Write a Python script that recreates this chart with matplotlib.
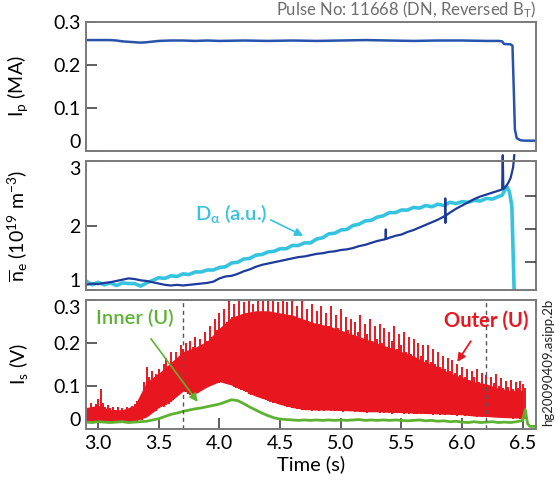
import numpy as np
import matplotlib
matplotlib.use("Agg")
import matplotlib.pyplot as plt

plt.rcParams['font.family'] = ['Lato', 'DejaVu Sans']
plt.rcParams['mathtext.fontset'] = 'custom'
plt.rcParams['mathtext.rm'] = 'Lato'
plt.rcParams['mathtext.it'] = 'Lato:italic'
plt.rcParams['mathtext.bf'] = 'Lato:bold'

# ---------------- data ----------------
t_ip = [2.90, 3.00, 3.10, 3.15, 3.20, 3.30, 3.35, 3.40, 3.50, 3.60, 3.70, 3.80, 3.90, 4.00,
        4.20, 4.40, 4.60, 4.80, 5.00, 5.20, 5.40, 5.60, 5.80, 6.00, 6.20, 6.30, 6.33, 6.345,
        6.40, 6.415, 6.425, 6.435, 6.45, 6.48, 6.52, 6.61]
ip = [0.258, 0.258, 0.258, 0.257, 0.255, 0.253, 0.252, 0.253, 0.256, 0.257, 0.257, 0.256,
      0.257, 0.256, 0.257, 0.256, 0.257, 0.256, 0.257, 0.258, 0.257, 0.256, 0.257, 0.257,
      0.256, 0.256, 0.255, 0.249, 0.248, 0.245, 0.150, 0.050, 0.030, 0.025, 0.024, 0.024]

t_ne = list(np.round(np.arange(2.90, 5.351, 0.05), 3)) + [5.37, 5.371, 5.372, 5.40, 5.45, 5.50,
        5.55, 5.60, 5.65, 5.70, 5.75, 5.80, 5.86, 5.861, 5.862, 5.863, 5.90, 5.95, 6.00, 6.05,
        6.10, 6.15, 6.20, 6.25, 6.30, 6.33, 6.335, 6.34, 6.35, 6.38, 6.40, 6.42, 6.43]
ne = [1.08, 1.10, 1.09, 1.11, 1.12, 1.14, 1.16, 1.18, 1.17, 1.15,
      1.14, 1.12, 1.10, 1.08, 1.07, 1.08, 1.07, 1.08, 1.09, 1.10,
      1.11, 1.13, 1.18, 1.21, 1.22, 1.25, 1.29, 1.32, 1.36, 1.39,
      1.41, 1.43, 1.45, 1.47, 1.49, 1.51, 1.52, 1.54, 1.56, 1.57,
      1.59, 1.60, 1.62, 1.63, 1.65, 1.68, 1.70, 1.73, 1.76, 1.78,
      1.79, 1.94, 1.79, 1.81, 1.84, 1.86, 1.90, 1.93, 1.97, 2.01,
      2.05, 2.09, 2.15, 2.42, 2.04, 2.15, 2.20, 2.26, 2.31, 2.36,
      2.41, 2.45, 2.48, 2.51, 2.54, 2.56, 3.09, 2.57, 2.58, 2.66,
      2.74, 2.90, 3.09]

t_da = list(np.round(np.arange(2.90, 6.301, 0.05), 3)) + [6.33, 6.36, 6.37, 6.39, 6.41, 6.42, 6.43]
da = [1.14, 1.08, 1.12, 1.08, 1.11, 1.07, 1.11, 1.10, 1.10, 1.06,
      1.11, 1.15, 1.19, 1.18, 1.22, 1.21, 1.25, 1.24, 1.28, 1.28,
      1.31, 1.31, 1.35, 1.36, 1.42, 1.43, 1.48, 1.49, 1.54, 1.55,
      1.59, 1.60, 1.64, 1.64, 1.69, 1.69, 1.73, 1.73, 1.79, 1.81,
      1.87, 1.88, 1.93, 1.94, 2.00, 2.02, 2.07, 2.08, 2.13, 2.15,
      2.20, 2.20, 2.24, 2.24, 2.28, 2.27, 2.31, 2.29, 2.33, 2.31,
      2.36, 2.34, 2.37, 2.36, 2.39, 2.38, 2.42, 2.41, 2.45,
      2.47, 2.58, 2.60, 2.52, 2.30, 1.60, 0.90]

# Outer probe: fine spikes (0.02 s grid) and dense core band (0.1 s grid)
t_is = np.round(np.arange(2.90, 6.521, 0.02), 3)
outer_hi = [0.055, 0.048, 0.060, 0.052, 0.058, 0.070, 0.093, 0.060, 0.050, 0.055,
            0.048, 0.052, 0.045, 0.050, 0.042, 0.048, 0.044, 0.050, 0.046, 0.053,
            0.058, 0.065, 0.062, 0.070, 0.110, 0.145, 0.120, 0.135, 0.110, 0.128,
            0.140, 0.118, 0.150, 0.165, 0.140, 0.178, 0.155, 0.180, 0.165, 0.195,
            0.185, 0.200, 0.170, 0.205, 0.190, 0.215, 0.180, 0.210, 0.195, 0.225,
            0.205, 0.240, 0.215, 0.255, 0.230, 0.270, 0.225, 0.280, 0.250, 0.300,
            0.260, 0.290, 0.245, 0.305, 0.265, 0.295, 0.250, 0.310, 0.270, 0.290,
            0.255, 0.305, 0.265, 0.310, 0.245, 0.300, 0.270, 0.310, 0.250, 0.295,
            0.265, 0.305, 0.240, 0.295, 0.260, 0.310, 0.250, 0.285, 0.245, 0.300,
            0.240, 0.280, 0.250, 0.290, 0.235, 0.275, 0.245, 0.285, 0.230, 0.270,
            0.240, 0.285, 0.225, 0.265, 0.235, 0.280, 0.220, 0.260, 0.230, 0.255,
            0.215, 0.250, 0.225, 0.265, 0.210, 0.245, 0.220, 0.255, 0.205, 0.240,
            0.210, 0.245, 0.200, 0.235, 0.190, 0.225, 0.205, 0.240, 0.185, 0.220,
            0.195, 0.225, 0.180, 0.215, 0.175, 0.210, 0.165, 0.200, 0.170, 0.195,
            0.160, 0.195, 0.155, 0.185, 0.150, 0.180, 0.145, 0.170, 0.140, 0.165,
            0.135, 0.160, 0.130, 0.150, 0.125, 0.145, 0.120, 0.140, 0.115, 0.135,
            0.120, 0.140, 0.110, 0.130, 0.105, 0.125, 0.100, 0.120, 0.108, 0.128,
            0.100, 0.118, 0.095, 0.112, 0.098, 0.115, 0.092, 0.110, 0.096, 0.112,
            0.105, 0.095]
outer_lo = [0.018, 0.015, 0.020, 0.016, 0.018, 0.022, 0.020, 0.017, 0.015, 0.018,
            0.016, 0.018, 0.015, 0.017, 0.016, 0.018, 0.015, 0.017, 0.016, 0.018,
            0.017, 0.019, 0.020, 0.022, 0.025, 0.030, 0.035, 0.040, 0.045, 0.042,
            0.048, 0.050, 0.052, 0.055, 0.058, 0.062, 0.068, 0.075, 0.080, 0.085,
            0.088, 0.085, 0.082, 0.080, 0.078, 0.080, 0.084, 0.088, 0.092, 0.095,
            0.098, 0.102, 0.105, 0.108, 0.110, 0.108, 0.112, 0.110, 0.106, 0.104,
            0.102, 0.098, 0.095, 0.092, 0.090, 0.088, 0.085, 0.082, 0.080, 0.078,
            0.076, 0.074, 0.072, 0.070, 0.068, 0.065, 0.063, 0.061, 0.060, 0.058,
            0.057, 0.055, 0.054, 0.052, 0.050, 0.049, 0.048, 0.047, 0.046, 0.045,
            0.045, 0.044, 0.046, 0.043, 0.045, 0.044, 0.042, 0.044, 0.043, 0.045,
            0.044, 0.042, 0.043, 0.041, 0.043, 0.042, 0.040, 0.042, 0.041, 0.043,
            0.042, 0.040, 0.041, 0.039, 0.041, 0.040, 0.038, 0.040, 0.039, 0.041,
            0.040, 0.038, 0.039, 0.037, 0.039, 0.038, 0.036, 0.038, 0.037, 0.039,
            0.038, 0.036, 0.037, 0.035, 0.037, 0.036, 0.034, 0.036, 0.035, 0.037,
            0.036, 0.034, 0.035, 0.033, 0.035, 0.034, 0.032, 0.034, 0.033, 0.035,
            0.034, 0.032, 0.033, 0.031, 0.033, 0.032, 0.030, 0.032, 0.031, 0.030,
            0.030, 0.029, 0.031, 0.028, 0.030, 0.029, 0.027, 0.029, 0.028, 0.027,
            0.027, 0.026, 0.028, 0.025, 0.027, 0.026, 0.024, 0.026, 0.025, 0.024,
            0.025, 0.024]
t_core = np.round(np.arange(2.90, 6.501, 0.1), 2)
core_hi = [0.050, 0.055, 0.045, 0.045, 0.055, 0.110, 0.130, 0.155, 0.180, 0.190,
           0.205, 0.235, 0.260, 0.270, 0.275, 0.275, 0.270, 0.265, 0.255, 0.245,
           0.240, 0.230, 0.220, 0.210, 0.200, 0.190, 0.180, 0.170, 0.155, 0.145,
           0.130, 0.120, 0.110, 0.105, 0.095, 0.090, 0.090]
core_lo = [0.018, 0.018, 0.017, 0.017, 0.018, 0.028, 0.050, 0.065, 0.088, 0.082,
           0.098, 0.110, 0.102, 0.090, 0.076, 0.067, 0.057, 0.050, 0.045, 0.044,
           0.044, 0.043, 0.042, 0.040, 0.040, 0.039, 0.038, 0.037, 0.036, 0.035,
           0.034, 0.033, 0.030, 0.029, 0.027, 0.026, 0.025]

t_in = list(np.round(np.arange(2.90, 6.501, 0.05), 3)) + [6.52, 6.54, 6.56, 6.61]
inner = [0.016, 0.015, 0.017, 0.016, 0.015, 0.016, 0.017, 0.015, 0.016, 0.017,
         0.018, 0.021, 0.024, 0.029, 0.034, 0.037, 0.041, 0.044, 0.047, 0.049,
         0.052, 0.055, 0.058, 0.063, 0.068, 0.066, 0.059, 0.051, 0.044, 0.037,
         0.031, 0.026, 0.023, 0.022, 0.021, 0.020, 0.021, 0.020, 0.021, 0.020,
         0.021, 0.020, 0.021, 0.020, 0.021, 0.022, 0.020, 0.021, 0.020, 0.021,
         0.020, 0.021, 0.020, 0.019, 0.020, 0.021, 0.019, 0.020, 0.018, 0.019,
         0.017, 0.018, 0.016, 0.015, 0.017, 0.015, 0.016, 0.017, 0.015, 0.016,
         0.015, 0.017, 0.020,
         0.045, 0.012, 0.006, 0.006]

x_ticks = [3.0, 3.5, 4.0, 4.5, 5.0, 5.5, 6.0, 6.5]
x_ticklabels = ['3.0', '3.5', '4.0', '4.5', '5.0', '5.5', '6.0', '6.5']
dashed_t = [3.7, 6.2]

# ---------------- style ----------------
C_IP = '#2753AD'
C_NE = '#1E3A9A'
C_DA = '#36C3DF'
C_OUT = '#E8171F'
C_IN = '#5DB331'
FRAME = '#7a7a7a'
FS = 14

fig = plt.figure(figsize=(5.55, 4.86), dpi=100)
L, W, H = 0.155, 0.811, 0.2654
ax1 = fig.add_axes([L, 0.6893, W, H])
ax2 = fig.add_axes([L, 0.4033, W, H])
ax3 = fig.add_axes([L, 0.1173, W, H])

for ax in (ax1, ax2, ax3):
    ax.set_xlim(2.9, 6.61)
    for s in ax.spines.values():
        s.set_color(FRAME)
        s.set_linewidth(1.4)
    ax.tick_params(direction='in', length=8, width=1.1, color='#333333',
                   labelsize=FS, pad=4)
    ax.yaxis.set_label_coords(-0.125, 0.5)


def edge_labels(ax, top_va, bottom_va):
    labs = ax.get_yticklabels()
    labs[0].set_verticalalignment(bottom_va)
    labs[-1].set_verticalalignment(top_va)


# top panel
ax1.plot(t_ip, ip, color=C_IP, lw=1.8)
ax1.set_ylim(0, 0.3)
ax1.set_yticks([0, 0.1, 0.2, 0.3])
ax1.set_yticklabels(['0', '0.1', '0.2', '0.3'])
edge_labels(ax1, 'center_baseline', 'bottom')
ax1.set_xticks([])
ax1.set_ylabel(r'I$_\mathregular{p}$ (MA)', fontsize=FS)
fig.text(0.966, 0.979, r'Pulse No: 11668 (DN, Reversed B$_\mathregular{T}$)',
         ha='right', va='center', fontsize=12, color='#6d6d6d')

# middle panel
ax2.plot(t_da, da, color=C_DA, lw=2.6)
ax2.plot(t_ne, ne, color=C_NE, lw=1.6, clip_on=False)
ax2.set_ylim(1, 3)
ax2.set_yticks([1, 2, 3])
ax2.set_yticklabels(['1', '2', '3'])
edge_labels(ax2, 'top', 'bottom')
ax2.set_xticks([])
ax2.set_ylabel(r'$\overline{\mathregular{n}}_\mathregular{e}$ (10$^{\mathregular{19}}$ m$^{\mathregular{-3}}$)',
               fontsize=FS)
ax2r = ax2.twinx()
ax2r.set_ylim(0.152, 4.06)
ax2r.set_yticks([1, 2, 3])
ax2r.set_yticklabels([])
ax2r.tick_params(direction='in', length=8, width=1.1, color='#333333')
for s in ax2r.spines.values():
    s.set_visible(False)
ax2.annotate(r'D$_\mathregular{α}$ (a.u.)', xy=(4.69, 1.84), xytext=(4.10, 2.18),
             color=C_DA, fontsize=14.5, fontweight='semibold', ha='center', va='center',
             arrowprops=dict(arrowstyle='-|>', color=C_DA, lw=1.2,
                             shrinkA=0, shrinkB=0, mutation_scale=12,
                             relpos=(1.0, 0.3)))

# bottom panel
ax3.fill_between(t_core, core_lo, core_hi, color=C_OUT, lw=0)
ax3.vlines(t_is, outer_lo, outer_hi, color=C_OUT, lw=1.4)
ax3.plot(t_in, inner, color=C_IN, lw=2)
for td in dashed_t:
    ax3.axvline(td, color='#555555', lw=1, ls=(0, (3, 2.5)))
ax3.set_ylim(0, 0.3)
ax3.set_yticks([0, 0.1, 0.2, 0.3])
ax3.set_yticklabels(['0', '0.1', '0.2', '0.3'])
edge_labels(ax3, 'top', 'bottom')
ax3.set_xticks(x_ticks)
ax3.set_xticklabels(x_ticklabels)
ax3.set_xlabel('Time (s)', fontsize=FS + 0.5, labelpad=3)
ax3.set_ylabel(r'I$_\mathregular{s}$ (V)', fontsize=FS)
ax3.annotate('Inner (U)', xy=(3.82, 0.063), xytext=(3.30, 0.258),
             color=C_IN, fontsize=14.5, fontweight='semibold', ha='center', va='center',
             arrowprops=dict(arrowstyle='-|>', color=C_IN, lw=1.2,
                             shrinkA=8, shrinkB=0, mutation_scale=12,
                             relpos=(0.6, 0.0)))
ax3.annotate('Outer (U)', xy=(5.96, 0.156), xytext=(6.20, 0.253),
             color=C_OUT, fontsize=14.5, fontweight='bold', ha='center', va='center',
             arrowprops=dict(arrowstyle='-|>', color=C_OUT, lw=1.3,
                             shrinkA=7, shrinkB=0, mutation_scale=12,
                             relpos=(0.4, 0.0)))

fig.text(0.987, 0.255, 'hg20090409.asipp.2b', rotation=90, ha='center', va='center',
         fontsize=9.5, color='#222222')

fig.savefig('out.png', dpi=100)
